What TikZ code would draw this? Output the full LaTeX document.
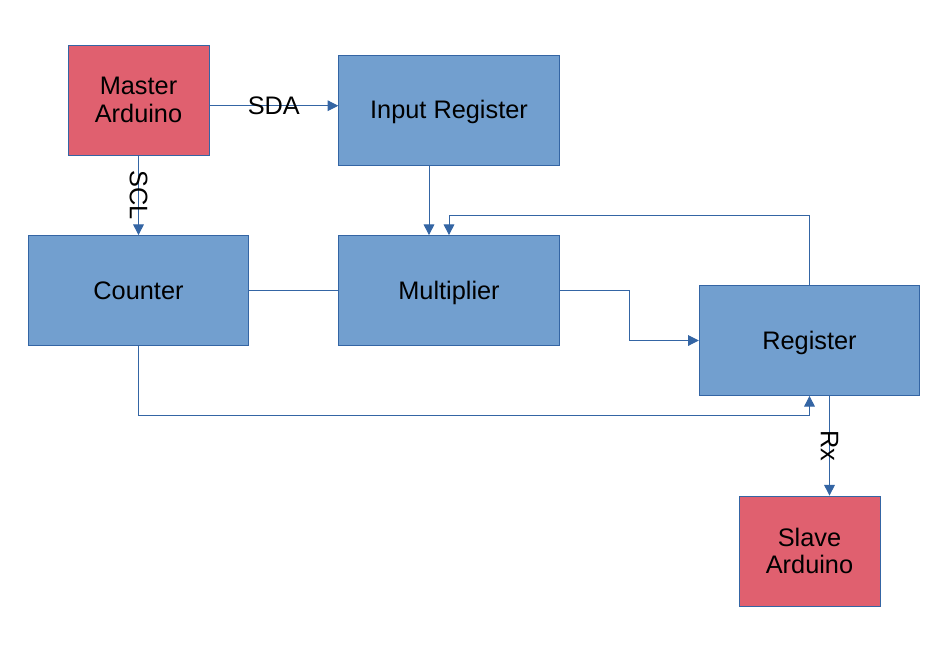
\documentclass[tikz,border=0pt]{standalone}
\usepackage{fontspec}
\setmainfont{Liberation Sans}
\usepackage{tikz}
\usetikzlibrary{arrows.meta}
\usetikzlibrary{positioning}
\definecolor{boxblue}{HTML}{729FCF}
\definecolor{boxred}{HTML}{E0606F}
\definecolor{wireblue}{HTML}{3465A4}
\tikzset{>={Triangle[length=8pt,width=8pt]}}
\tikzstyle{box} = [rectangle, draw=wireblue, line width=0.6pt, fill=boxblue, minimum width=165.5pt, minimum height=82.5pt, align=center, font=\fontsize{19}{20.5}\selectfont]
\tikzstyle{blk} = [box, text height=13.3pt, text depth=0pt]
\tikzstyle{ard} = [box, fill=boxred, minimum width=105.75pt]
\tikzstyle{link} = [draw=wireblue, line width=0.75pt]
\tikzstyle{lbl} = [inner sep=0pt, font=\fontsize{19}{20.5}\selectfont]

\begin{document}
\begin{tikzpicture}[x=0.75pt, y=-0.75pt]
\useasboundingbox (0, 0) rectangle (946, 661);
\node [ard] (master) at (138.5, 100) {Master\\Arduino};
\node [blk] (input) at (449, 110) {Input Register};
\node [blk] (counter) at (138.5, 290.5) {Counter};
\node [blk] (mult) at (449, 290.5) {Multiplier};
\node [blk] (reg) at (809.5, 340.5) {Register};
\node [ard] (slave) at (809.5, 551) {Slave\\Arduino};
\draw [link, ->] ([yshift=-4.3pt]master.east) -- ([yshift=-4.3pt]master.east -| input.west) node [lbl, midway] {SDA};
\draw [link, ->] (master.south) -- (counter.north) node [lbl, midway, rotate=-90] {SCL};
\draw [link, ->] ([xshift=-15pt]input.south) -- ([xshift=-15pt]mult.north);
\draw [link, ->] (reg.north) -- ++(0, -69.5) -| (mult.north);
\draw [link] (counter.east) -- (mult.west);
\draw [link, ->] (mult.east) -- ++(70, 0) |- (reg.west);
\draw [link, ->] (counter.south) -- ++(0, 70) -| (reg.south);
\draw [link, ->] ([xshift=15pt]reg.south) -- ([xshift=15pt]reg.south |- slave.north) node [lbl, midway, rotate=-90] {Rx};
\end{tikzpicture}
\end{document}
